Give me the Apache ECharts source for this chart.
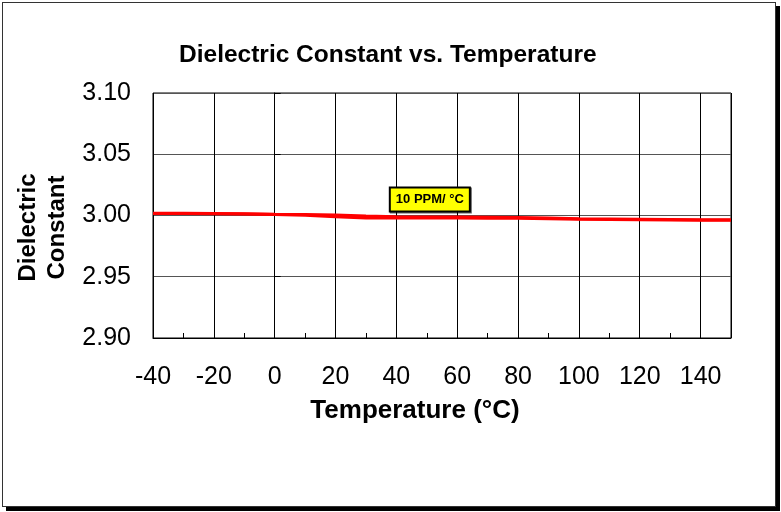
<!DOCTYPE html>
<html><head><meta charset="utf-8">
<script src="https://cdn.jsdelivr.net/npm/echarts@6/dist/echarts.min.js"></script>
<style>
html,body{margin:0;padding:0;background:#fff;}
#frame{position:absolute;left:2px;top:2px;width:772px;height:503px;border:1px solid #333;box-shadow:4px 4px 0 #000;background:#fff;}
#chart{position:absolute;left:0;top:0;width:781px;height:512px;}
</style></head>
<body>
<div id="frame"></div>
<div id="chart"></div>
<script>
const temps = [-40, -30, -20, -10, 0, 10, 20, 30, 40, 50, 60, 70, 80, 90, 100, 110, 120, 130, 140, 150];
const upperDk = [3.0018, 3.0018, 3.0017, 3.0015, 3.0011, 3.0008, 3.0004, 2.9995, 2.9990, 2.9988, 2.9987, 2.9985, 2.9983, 2.9979, 2.9974, 2.9972, 2.9970, 2.9968, 2.9966, 2.9966];
const lowerDk = [3.0016, 3.0016, 3.0015, 3.0013, 3.0009, 3.0003, 2.9990, 2.9980, 2.9979, 2.9979, 2.9979, 2.9978, 2.9977, 2.9974, 2.9970, 2.9968, 2.9966, 2.9964, 2.9962, 2.9962];
const annotation = {text: '10 PPM/ °C', temp: 51, value: 3.0131};
const FONT = '"Liberation Sans", Arial, sans-serif';

const chart = echarts.init(document.getElementById('chart'));
const pairs = arr => temps.map((t, i) => [t, arr[i]]);
chart.setOption({
  animation: false,
  backgroundColor: 'transparent',
  title: {
    text: 'Dielectric Constant vs. Temperature',
    left: 174, top: 38,
    textStyle: {fontFamily: FONT, fontSize: 24.5, fontWeight: 'bold', color: '#000'}
  },
  grid: {left: 153, top: 93, width: 578, height: 245, show: true, borderColor: '#000', borderWidth: 1, containLabel: false, outerBoundsMode: 'none'},
  xAxis: {
    type: 'value', min: -40, max: 150, interval: 20,
    name: 'Temperature (°C)', nameLocation: 'middle', nameGap: 60,
    nameTextStyle: {fontFamily: FONT, fontSize: 26, fontWeight: 'bold', color: '#000', padding: [0, 54, 0, 0]},
    axisLine: {show: true, lineStyle: {color: '#000', width: 1}},
    axisTick: {show: true, inside: true, length: 5, lineStyle: {color: '#000'}},
    minorTick: {show: true, splitNumber: 2, length: 5, lineStyle: {color: '#000'}},
    axisLabel: {fontFamily: FONT, fontSize: 25, color: '#000', margin: 27, showMaxLabel: false},
    splitLine: {show: true, lineStyle: {color: '#000', width: 1}}
  },
  yAxis: {
    type: 'value', min: 2.90, max: 3.10, interval: 0.05,
    name: 'Dielectric\nConstant', nameLocation: 'middle', nameGap: 80, nameRotate: 90,
    nameTextStyle: {fontFamily: FONT, fontSize: 24, fontWeight: 'bold', color: '#000', lineHeight: 29, padding: [0, 24, 0, 0]},
    axisLine: {show: true, lineStyle: {color: '#000', width: 1}},
    axisTick: {show: true, inside: true, length: 6, lineStyle: {color: '#000'}},
    axisLabel: {fontFamily: FONT, fontSize: 25, color: '#000', margin: 22, formatter: v => v.toFixed(2)},
    splitLine: {show: true, lineStyle: {color: '#555', width: 1}}
  },
  series: [
    {type: 'line', data: pairs(upperDk), symbol: 'none', smooth: false, lineStyle: {color: '#ff0000', width: 3}, z: 3,
     markPoint: {
       symbol: 'rect', symbolSize: 1, itemStyle: {color: 'transparent'},
       label: {show: true, formatter: annotation.text, position: 'inside', fontFamily: FONT, fontSize: 13, fontWeight: 'bold', color: '#000',
         backgroundColor: '#ffff00', borderColor: '#000', borderWidth: 2, padding: [5, 5, 4, 5], shadowColor: 'rgba(0,0,0,0.6)', shadowOffsetX: 1, shadowOffsetY: 1},
       data: [{coord: [annotation.temp, annotation.value]}]
     }},
    {type: 'line', data: pairs(lowerDk), symbol: 'none', smooth: false, lineStyle: {color: '#ff0000', width: 3}, z: 3}
  ]
});
</script>
</body></html>
